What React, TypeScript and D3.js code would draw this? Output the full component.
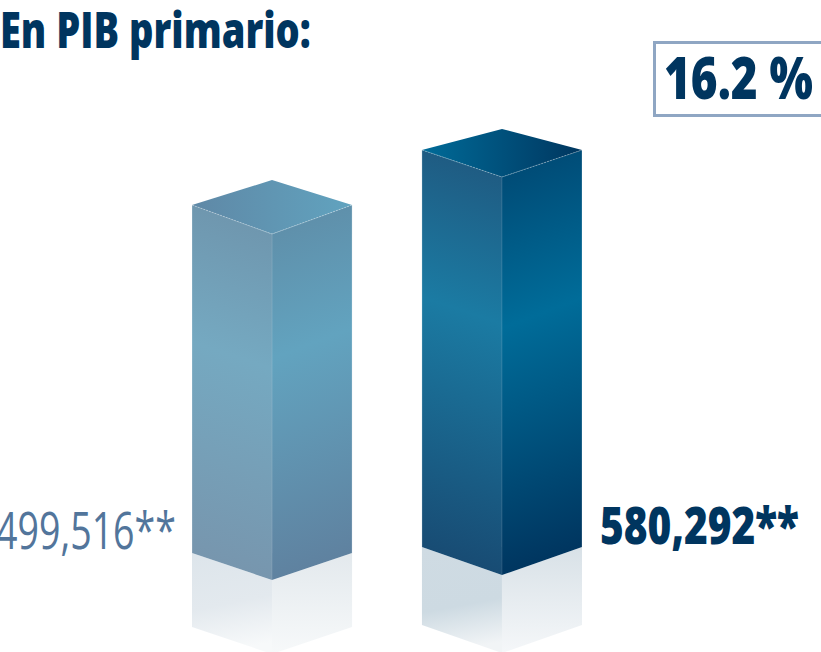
import React, { useLayoutEffect, useRef } from "react";
import * as d3 from "d3";

const categories = ["anterior", "actual"];
const values = [499516, 580292];
const valueLabels = ["499,516**", "580,292**"];
const title = "En PIB primario:";
const change = "16.2 %";

const W = 821, H = 652;
const FONT = "'Open Sans',sans-serif";
const NAVY = "#00355f";

// value -> visible height of the front edge
const heightScale = d3.scaleLinear().domain([499516, 580292]).range([346, 398]);
const band = d3.scaleBand<string>().domain(categories).range([192, 582]).paddingInner(0.304);
const baseY = [580, 575];          // front corner of the base
const shoulderDrop = [27, 28];     // front corner below side corners (base)
const topDrop = [29, 27];          // front corner below side corners (top)
const backRise = [25, 21];         // back corner above side corners
const reflectionH = [74, 78];

type Stops = [number, string][];
const themes = [
  {
    left: [[0, "#6f97af"], [0.39, "#75a9c1"], [1, "#7796ae"]] as Stops,
    right: [[0, "#5f90ab"], [0.36, "#62a3bf"], [1, "#5f82a0"]] as Stops,
    top: [[0, "#5f88a6"], [1, "#61a3bf"]] as Stops,
    reflL: [[0, "#dde5eb"], [0.55, "#e3e9ee"], [1, "#f7f9fa"]] as Stops,
    reflR: [[0, "#e3e9ed"], [1, "#f7f9fa"]] as Stops,
    text: "#52759b",
  },
  {
    left: [[0, "#1f5c83"], [0.37, "#1b7ba3"], [1, "#184c74"]] as Stops,
    right: [[0, "#004c77"], [0.38, "#006c99"], [1, "#003660"]] as Stops,
    top: [[0, "#006b98"], [1, "#00365f"]] as Stops,
    reflL: [[0, "#cfdbe3"], [0.6, "#cddae2"], [1, "#f1f4f6"]] as Stops,
    reflR: [[0, "#d8e1e7"], [1, "#f5f7f9"]] as Stops,
    text: NAVY,
  },
];

const poly = d3.line<[number, number]>().curve(d3.curveLinearClosed);

function Grad({ id, stops, x1, y1, x2, y2 }: { id: string; stops: Stops; x1: number; y1: number; x2: number; y2: number }) {
  return (
    <linearGradient id={id} gradientUnits="userSpaceOnUse" x1={x1} y1={y1} x2={x2} y2={y2}>
      {stops.map((s, i) => <stop key={i} offset={s[0]} stopColor={s[1]} />)}
    </linearGradient>
  );
}

// Gradient whose isolines are slanted: slope k, reaching t=1 at projected distance D.
function Slanted({ id, stops, x, y, k, D }: { id: string; stops: Stops; x: number; y: number; k: number; D: number }) {
  const a = D / (1 + k * k);
  return <Grad id={id} stops={stops} x1={x} y1={y} x2={x + a * k} y2={y + a} />;
}

// Real text, condensed horizontally to the measured width of the original's narrow face.
function FitText({ x, y, width, size, weight, fill, children }: { x: number; y: number; width: number; size: number; weight: number; fill: string; children: string }) {
  const ref = useRef<SVGTextElement>(null);
  useLayoutEffect(() => {
    const el = ref.current!;
    const natural = el.getComputedTextLength();
    el.setAttribute("transform", `translate(${x},${y}) scale(${width / natural},1)`);
  }, [x, y, width]);
  return <text ref={ref} transform={`translate(${x},${y})`} fontFamily={FONT} fontWeight={weight} fontSize={size} fill={fill}>{children}</text>;
}

export default function App() {
  const bw = band.bandwidth();
  return (
    <svg width={W} height={H} viewBox={`0 0 ${W} ${H}`} style={{ position: "absolute", left: 0, top: 0, display: "block" }}>
      <FitText x={0} y={48} width={311} size={50} weight={800} fill={NAVY}>{title}</FitText>

      <rect x={654.5} y={42.5} width={180} height={73} fill="#fff" stroke="#8fa6c3" strokeWidth={3} />
      <FitText x={664} y={99} width={149} size={59} weight={800} fill={NAVY}>{change}</FitText>

      {values.map((v, i) => {
        const xL = band(categories[i])!;
        const xR = xL + bw;
        const xM = xL + bw / 2;
        const fB = baseY[i];
        const fT = fB - heightScale(v);
        const sB = fB - shoulderDrop[i];
        const sT = fT - topDrop[i];
        const back = sT - backRise[i];
        const t = themes[i];
        const rH = reflectionH[i];
        return (
          <g key={categories[i]}>
            <defs>
              <Slanted id={`l${i}`} stops={t.left} x={xM} y={fT} k={-0.33} D={sB - fT + 26} />
              <Slanted id={`r${i}`} stops={t.right} x={xM} y={fT} k={0.38} D={fB - fT} />
              <Grad id={`t${i}`} stops={t.top} x1={xL} y1={sT} x2={xR} y2={sT} />
              <Grad id={`rl${i}`} stops={t.reflL} x1={xL} y1={sB} x2={xL + 20} y2={fB + rH} />
              <Grad id={`rr${i}`} stops={t.reflR} x1={xR} y1={sB} x2={xR} y2={fB + rH} />
            </defs>
            {/* reflection */}
            <path d={poly([[xL, sB], [xM, fB], [xM, fB + rH], [xL, sB + rH]])!} fill={`url(#rl${i})`} />
            <path d={poly([[xM, fB], [xR, sB], [xR, sB + rH], [xM, fB + rH]])!} fill={`url(#rr${i})`} />
            {/* faces */}
            <path d={poly([[xL, sT], [xM, fT], [xM, fB], [xL, sB]])!} fill={`url(#l${i})`} />
            <path d={poly([[xM, fT], [xR, sT], [xR, sB], [xM, fB]])!} fill={`url(#r${i})`} />
            <path d={poly([[xL, sT], [xM, back], [xR, sT], [xM, fT]])!} fill={`url(#t${i})`} />
            {/* highlights */}
            <path d={`M${xL},${sT}L${xM},${fT}L${xR},${sT}`} fill="none" stroke="#fff" strokeOpacity={0.4} strokeWidth={0.8} strokeDasharray="2 1" />
            <path d={`M${xM},${fT}V${fB}`} fill="none" stroke="#fff" strokeOpacity={0.15} strokeWidth={0.8} />
            <path d={`M${xL},${sT}V${sB}M${xR},${sT}V${sB}`} fill="none" stroke="#fff" strokeOpacity={0.3} strokeWidth={0.8} />
          </g>
        );
      })}

      <FitText x={-4} y={549} width={180} size={52} weight={400} fill={themes[0].text}>{valueLabels[0]}</FitText>
      <FitText x={600} y={544} width={199} size={52} weight={800} fill={themes[1].text}>{valueLabels[1]}</FitText>
    </svg>
  );
}
